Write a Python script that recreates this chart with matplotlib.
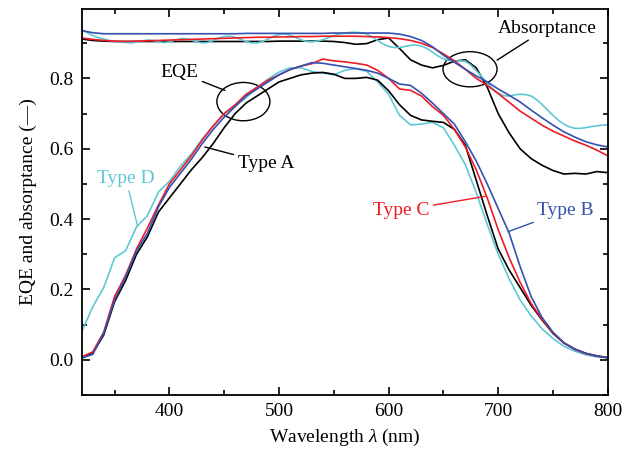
import numpy as np
import matplotlib
matplotlib.use("Agg")
import matplotlib.pyplot as plt
from matplotlib.patches import Ellipse
from matplotlib.ticker import MultipleLocator

plt.rcParams["font.family"] = ["Liberation Serif", "DejaVu Serif"]
plt.rcParams["mathtext.fontset"] = "custom"
plt.rcParams["mathtext.rm"] = "Liberation Serif"
plt.rcParams["mathtext.it"] = "Liberation Serif:italic"

# Longitudes de onda (nm)
wl = np.arange(320, 801, 10)
wl_fino = np.arange(320, 801, 5)

# EQE por tipo
eqe_a = [0.005, 0.018, 0.07, 0.165, 0.225, 0.30, 0.35, 0.42, 0.46, 0.50,
         0.54, 0.575, 0.615, 0.66, 0.70, 0.73, 0.75, 0.77, 0.79, 0.80,
         0.81, 0.815, 0.817, 0.812, 0.80, 0.80, 0.803, 0.795, 0.765, 0.725,
         0.695, 0.682, 0.678, 0.675, 0.655, 0.61, 0.51, 0.41, 0.315, 0.255,
         0.205, 0.155, 0.113, 0.075, 0.047, 0.03, 0.018, 0.011, 0.006]
eqe_b = [0.005, 0.015, 0.075, 0.17, 0.235, 0.31, 0.36, 0.435, 0.49, 0.53,
         0.57, 0.615, 0.655, 0.69, 0.72, 0.75, 0.77, 0.79, 0.81, 0.825,
         0.835, 0.845, 0.843, 0.838, 0.833, 0.828, 0.823, 0.815, 0.80, 0.784,
         0.78, 0.758, 0.73, 0.70, 0.67, 0.62, 0.565, 0.50, 0.43, 0.36,
         0.265, 0.18, 0.12, 0.078, 0.048, 0.03, 0.018, 0.01, 0.006]
eqe_c = [0.008, 0.022, 0.078, 0.18, 0.24, 0.315, 0.375, 0.44, 0.50, 0.54,
         0.58, 0.625, 0.665, 0.70, 0.725, 0.755, 0.775, 0.795, 0.81, 0.825,
         0.835, 0.842, 0.855, 0.85, 0.847, 0.843, 0.838, 0.823, 0.80, 0.77,
         0.766, 0.75, 0.72, 0.695, 0.655, 0.605, 0.54, 0.46, 0.37, 0.29,
         0.22, 0.16, 0.115, 0.076, 0.048, 0.029, 0.017, 0.01, 0.006]
eqe_d = [0.08, 0.15, 0.205, 0.29, 0.31, 0.378, 0.41, 0.477, 0.507, 0.55,
         0.585, 0.628, 0.665, 0.70, 0.722, 0.745, 0.775, 0.798, 0.818, 0.83,
         0.83, 0.82, 0.815, 0.81, 0.823, 0.828, 0.82, 0.79, 0.755, 0.695,
         0.668, 0.67, 0.675, 0.66, 0.61, 0.555, 0.475, 0.385, 0.30, 0.23,
         0.17, 0.125, 0.088, 0.06, 0.038, 0.024, 0.014, 0.008, 0.005]

# Absortancia por tipo
abs_a = [0.912, 0.908, 0.906, 0.905, 0.905, 0.905, 0.905, 0.905, 0.905, 0.905,
         0.905, 0.905, 0.905, 0.905, 0.905, 0.905, 0.905, 0.905, 0.906, 0.906,
         0.906, 0.906, 0.906, 0.905, 0.902, 0.897, 0.899, 0.91, 0.915, 0.885,
         0.853, 0.838, 0.83, 0.837, 0.849, 0.853, 0.83, 0.775, 0.70, 0.645,
         0.60, 0.572, 0.553, 0.538, 0.528, 0.53, 0.528, 0.535, 0.532]
abs_b = [0.936, 0.93, 0.927, 0.927, 0.927, 0.927, 0.927, 0.927, 0.927, 0.927,
         0.927, 0.927, 0.927, 0.927, 0.927, 0.928, 0.928, 0.928, 0.928, 0.928,
         0.928, 0.928, 0.928, 0.929, 0.929, 0.929, 0.929, 0.929, 0.929, 0.926,
         0.919, 0.908, 0.89, 0.866, 0.846, 0.826, 0.807, 0.79, 0.77, 0.752,
         0.733, 0.71, 0.688, 0.667, 0.648, 0.633, 0.62, 0.611, 0.605]
abs_c = [0.915, 0.911, 0.908, 0.906, 0.905, 0.906, 0.907, 0.908, 0.909, 0.910,
         0.911, 0.912, 0.913, 0.914, 0.915, 0.916, 0.917, 0.917, 0.918, 0.918,
         0.919, 0.919, 0.92, 0.92, 0.92, 0.92, 0.919, 0.918, 0.916, 0.913,
         0.908, 0.90, 0.888, 0.87, 0.85, 0.826, 0.80, 0.78, 0.757, 0.732,
         0.707, 0.687, 0.667, 0.65, 0.636, 0.622, 0.61, 0.596, 0.58]
abs_d = [0.938, 0.93, 0.922, 0.916, 0.912, 0.908, 0.905, 0.903, 0.902, 0.901,
         0.903, 0.907, 0.909, 0.908, 0.904, 0.902, 0.904, 0.909, 0.913, 0.913,
         0.909, 0.904, 0.901, 0.902, 0.908, 0.915, 0.919, 0.92, 0.917, 0.911,
         0.905, 0.901, 0.901, 0.905, 0.912, 0.92, 0.925, 0.926, 0.923, 0.917,
         0.91, 0.905, 0.904, 0.906, 0.91, 0.916, 0.921, 0.926, 0.929, 0.931,
         0.931, 0.93, 0.926, 0.918, 0.908, 0.898, 0.891, 0.888, 0.888, 0.891,
         0.894, 0.895, 0.892, 0.885, 0.875, 0.864, 0.856, 0.851, 0.849, 0.85,
         0.849, 0.838, 0.822, 0.805, 0.787, 0.77, 0.758, 0.751, 0.75, 0.753,
         0.755, 0.754, 0.75, 0.74, 0.726, 0.71, 0.695, 0.681, 0.67, 0.662,
         0.658, 0.658, 0.66, 0.663, 0.665, 0.667, 0.668]

c_a = "black"
c_b = "#3450b0"
c_c = "#ee1c25"
c_d = "#5ec8d5"

fig = plt.figure(figsize=(6.24, 4.57), dpi=100)
ax = fig.add_axes([0.131, 0.136, 0.843, 0.844])

lw = 1.2
ax.plot(wl, abs_a, color=c_a, lw=lw)
ax.plot(wl_fino, abs_d, color=c_d, lw=lw)
ax.plot(wl, abs_c, color=c_c, lw=lw)
ax.plot(wl, abs_b, color=c_b, lw=lw)
ax.plot(wl, eqe_d, color=c_d, lw=lw)
ax.plot(wl, eqe_a, color=c_a, lw=lw)
ax.plot(wl, eqe_c, color=c_c, lw=lw)
ax.plot(wl, eqe_b, color=c_b, lw=lw)

ax.set_xlim(320, 800)
ax.set_ylim(-0.1, 0.997)
ax.xaxis.set_major_locator(MultipleLocator(100))
ax.xaxis.set_minor_locator(MultipleLocator(50))
ax.yaxis.set_major_locator(MultipleLocator(0.2))
ax.yaxis.set_minor_locator(MultipleLocator(0.1))
ax.yaxis.set_major_formatter(matplotlib.ticker.FormatStrFormatter("%.1f"))
ax.tick_params(which="both", direction="in", top=True, right=True, labelsize=14, width=1.2)
ax.tick_params(which="major", length=6, pad=6)
ax.tick_params(which="minor", length=3.5)
for s in ax.spines.values():
    s.set_linewidth(1.3)

ax.set_xlabel(r"Wavelength $\mathit{\lambda}$ (nm)", fontsize=14, labelpad=5)
ax.set_ylabel("EQE and absorptance (—)", fontsize=14, labelpad=9)

# Anotaciones
fs = 14
flecha = dict(arrowstyle="-", lw=1.0, color="black", shrinkA=1, shrinkB=0)
ax.annotate("EQE", xy=(450.6, 0.766), xytext=(409, 0.817), ha="center", va="center",
            fontsize=fs, arrowprops=flecha)
ax.add_patch(Ellipse((467.5, 0.734), 48.4, 0.109, fill=False, lw=1.0, color="black"))
ax.annotate("Absorptance", xy=(699, 0.852), xytext=(744.7, 0.943), ha="center", va="center",
            fontsize=fs, arrowprops=flecha)
ax.add_patch(Ellipse((674.3, 0.826), 49.3, 0.100, fill=False, lw=1.0, color="black"))
ax.annotate("Type A", xy=(432.3, 0.605), xytext=(488, 0.559), ha="center", va="center",
            fontsize=fs, color=c_a, arrowprops=dict(flecha, color=c_a))
ax.annotate("Type D", xy=(371.1, 0.378), xytext=(360.2, 0.516), ha="center", va="center",
            fontsize=fs, color=c_d, arrowprops=dict(flecha, color=c_d))
ax.annotate("Type C", xy=(688, 0.4645), xytext=(611.3, 0.424), ha="center", va="center",
            fontsize=fs, color=c_c, arrowprops=dict(flecha, color=c_c))
ax.annotate("Type B", xy=(709, 0.364), xytext=(761.1, 0.424), ha="center", va="center",
            fontsize=fs, color=c_b, arrowprops=dict(flecha, color=c_b))

fig.savefig("out.png", dpi=100)
